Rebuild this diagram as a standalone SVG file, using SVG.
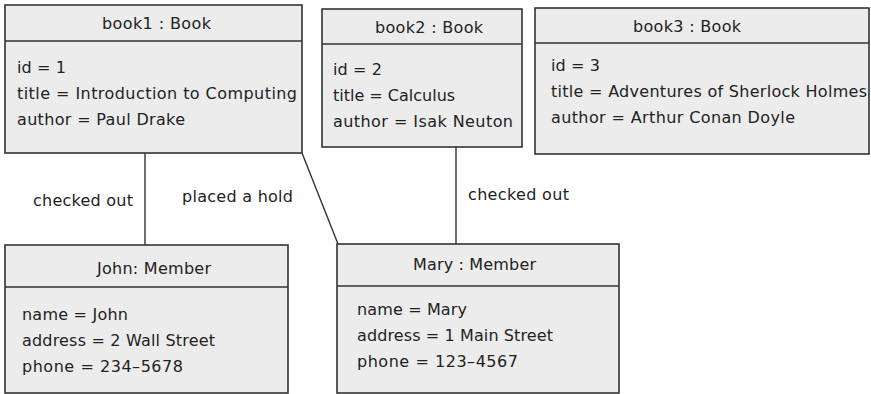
<svg xmlns="http://www.w3.org/2000/svg" width="871" height="394" viewBox="0 0 871 394">
<style>
.box{fill:#ececec;stroke:#333;stroke-width:1.6}
.div{stroke:#333;stroke-width:1.6}
.conn{stroke:#333;stroke-width:1.4;fill:none}
text{font-family:"DejaVu Sans","Liberation Sans",sans-serif;font-size:16px;fill:#222}
</style>
<rect width="871" height="394" fill="#fff"/>
<g id="connectors">
<line class="conn" x1="145" y1="153" x2="145" y2="245"/>
<line class="conn" x1="302" y1="153" x2="338" y2="244"/>
<line class="conn" x1="456" y1="147" x2="456" y2="244"/>
<text x="33" y="206" textLength="100">checked out</text>
<text x="182" y="202" textLength="111">placed a hold</text>
<text x="468" y="200" textLength="101">checked out</text>
</g>
<g id="book1">
<rect class="box" x="5" y="5" width="297" height="148"/>
<line class="div" x1="5" y1="41" x2="302" y2="41"/>
<text x="102" y="29" textLength="109">book1 : Book</text>
<text x="17" y="73" textLength="49">id = 1</text>
<text x="17" y="99" textLength="280">title = Introduction to Computing</text>
<text x="17" y="125" textLength="168">author = Paul Drake</text>
</g>
<g id="book2">
<rect class="box" x="322" y="9" width="200" height="138"/>
<line class="div" x1="322" y1="44" x2="522" y2="44"/>
<text x="375" y="33" textLength="108">book2 : Book</text>
<text x="333" y="75" textLength="49">id = 2</text>
<text x="333" y="101">title = Calculus</text>
<text x="333" y="127" textLength="180">author = Isak Neuton</text>
</g>
<g id="book3">
<rect class="box" x="535" y="8" width="334" height="146"/>
<line class="div" x1="535" y1="43" x2="869" y2="43"/>
<text x="633" y="32" textLength="108">book3 : Book</text>
<text x="551" y="71" textLength="49">id = 3</text>
<text x="551" y="97" textLength="316">title = Adventures of Sherlock Holmes</text>
<text x="551" y="123" textLength="244">author = Arthur Conan Doyle</text>
</g>
<g id="john">
<rect class="box" x="5" y="245" width="283" height="148"/>
<line class="div" x1="5" y1="287" x2="288" y2="287"/>
<text x="97" y="274" textLength="114">John: Member</text>
<text x="22" y="320" textLength="106">name = John</text>
<text x="22" y="346" textLength="193">address = 2 Wall Street</text>
<text x="22" y="372" textLength="161">phone = 234–5678</text>
</g>
<g id="mary">
<rect class="box" x="337" y="244" width="282" height="149"/>
<line class="div" x1="337" y1="286" x2="619" y2="286"/>
<text x="413" y="270" textLength="123">Mary : Member</text>
<text x="357" y="315" textLength="110">name = Mary</text>
<text x="357" y="341" textLength="196">address = 1 Main Street</text>
<text x="357" y="367" textLength="161">phone = 123–4567</text>
</g>
</svg>
